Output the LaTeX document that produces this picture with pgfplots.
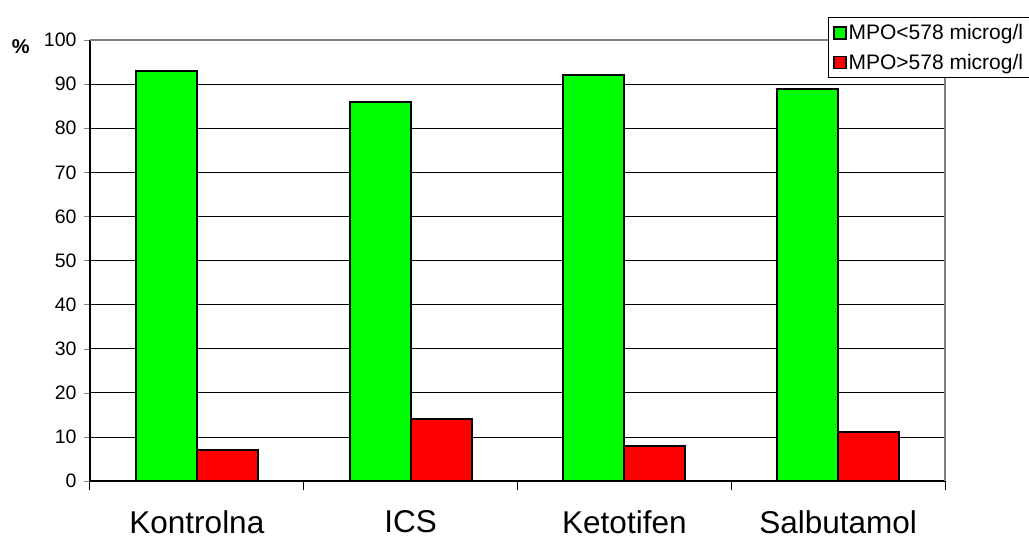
\documentclass[border=0pt]{standalone}
\usepackage{fontspec}
\setmainfont{Liberation Sans}
\usepackage{pgfplots}
\pgfplotsset{compat=1.18}

\definecolor{grn}{RGB}{0,255,0}
\definecolor{rd}{RGB}{255,0,0}

\begin{document}
\begin{tikzpicture}[x=1pt,y=1pt]
\useasboundingbox (0,0) rectangle (1029,538);
\begin{axis}[
    at={(90pt,57pt)}, anchor=south west,
    scale only axis, width=855pt, height=441pt,
    xmin=-0.5, xmax=3.5, ymin=0, ymax=100,
    axis x line*=bottom, axis y line*=left,
    axis line style={black, line width=1.2pt, -},
    xtick={0,1,2,3},
    xticklabels={Kontrolna,ICS,Ketotifen,Salbutamol},
    x tick label style={font=\fontsize{31.5}{34}\selectfont, yshift=-20pt},
    major x tick style={draw=none},
    minor xtick={-0.5,0.5,1.5,2.5,3.5},
    minor tick length=9pt,
    minor x tick style={black, line width=1pt},
    ytick={0,10,...,100},
    major tick length=6pt,
    tick align=outside,
    y tick label style={font=\fontsize{19.5}{22}\selectfont, xshift=-4pt},
    /pgf/number format/assume math mode=true,
    ymajorgrids, major grid style={black, line width=0.7pt},
    ybar, bar width=61pt,
    legend style={at={(rel axis cs:1.1,1.052)}, anchor=north east,
        draw=black, line width=0.8pt, font=\fontsize{21}{23}\selectfont,
        inner xsep=5pt, inner ysep=5pt, row sep=9pt, cells={anchor=west}},
    legend image code/.code={\draw[#1, draw=black, line width=1.6pt] (0pt,-6pt) rectangle (12pt,6pt);},
    clip=false,
]
\addplot[fill=grn, draw=black, line width=2pt, bar shift=-30.5pt]
    coordinates {(0,93) (1,86) (2,92) (3,89)};
\addlegendentry{MPO<578 microg/l}
\addplot[fill=rd, draw=black, line width=2pt, bar shift=30.5pt]
    coordinates {(0,7) (1,14) (2,8) (3,11)};
\addlegendentry{MPO>578 microg/l}
\draw[gray, line width=1.2pt] (rel axis cs:0,1) -- (rel axis cs:1,1) -- (rel axis cs:1,0);
\node[font=\fontsize{20}{22}\selectfont] at (rel axis cs:-0.081,0.985) {\textbf{\%}};
\end{axis}
\end{tikzpicture}
\end{document}
